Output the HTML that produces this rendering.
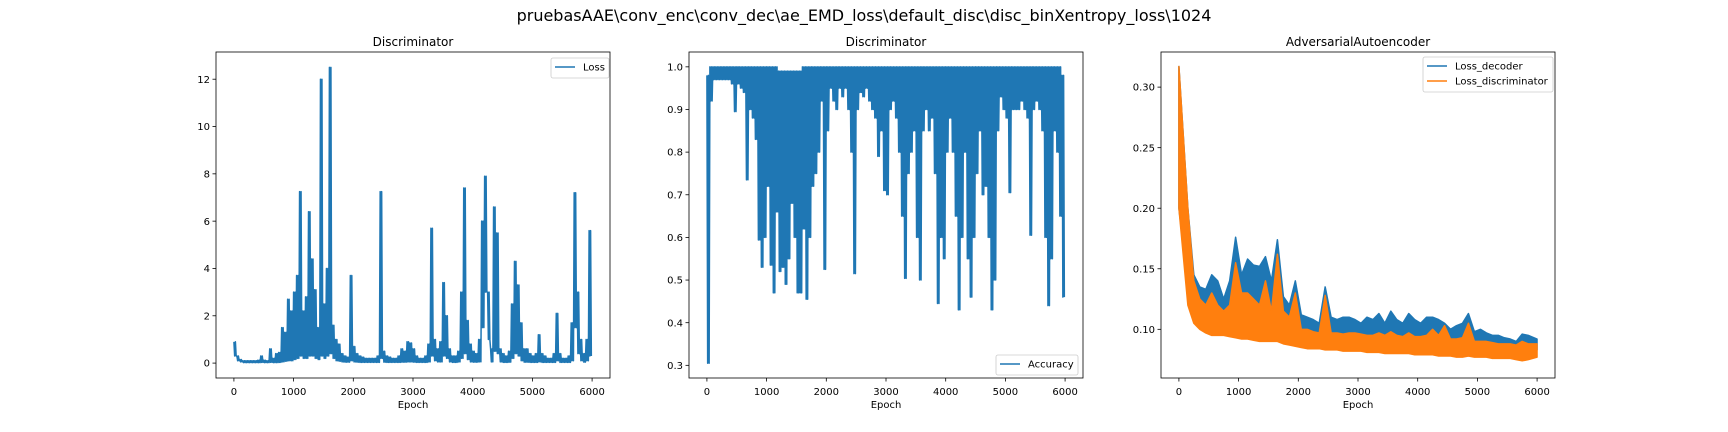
<!DOCTYPE html>
<html><head><meta charset="utf-8"><style>
html,body{margin:0;padding:0;background:#fff;}
svg{display:block;font-family:"DejaVu Sans","Liberation Sans",sans-serif;}
</style></head><body>
<svg id="fig" width="1728" height="432" viewBox="0 0 1728 432" xmlns="http://www.w3.org/2000/svg">
<rect width="1728" height="432" fill="#fff"/>
<text x="864" y="21" text-anchor="middle" font-size="16" fill="#000">pruebasAAE\conv_enc\conv_dec\ae_EMD_loss\default_disc\disc_binXentropy_loss\1024</text>
</svg>
<script>
const lossHigh=[0.9,0.3,0.15,0.1,0.1,0.1,0.1,0.1,0.12,0.3,
0.12,0.1,0.6,0.2,0.4,0.45,1.5,1.3,2.7,2.2,
3.0,3.7,7.25,2.2,2.8,6.4,4.4,3.1,1.5,12,
2.5,4.0,12.5,1.6,1.0,0.8,0.4,0.3,0.25,3.7,
0.7,0.4,0.3,0.25,0.2,0.2,0.2,0.2,0.3,7.25,
0.5,0.3,0.25,0.2,0.2,0.3,0.6,0.5,0.9,0.85,
0.6,0.3,0.2,0.2,0.3,0.8,5.7,1.0,0.6,0.9,
3.4,2.0,0.6,0.3,0.3,0.5,3.0,7.4,1.8,0.8,
0.5,0.4,1.0,6.0,7.9,3.0,0.6,6.6,5.5,0.6,
0.4,0.3,0.5,2.5,4.3,3.3,1.7,0.6,0.6,0.4,
0.3,0.4,1.2,0.4,0.3,0.2,0.2,0.4,2.1,0.4,
0.2,0.2,0.3,1.7,7.2,3.0,1.0,0.4,1.0,5.6];
const lossLow=[0.3,0.1,0.05,0.02,0.02,0.02,0.02,0.02,0.02,0.03,
0.02,0.02,0.03,0.02,0.02,0.03,0.05,0.08,0.1,0.1,
0.15,0.2,0.3,0.2,0.2,0.3,0.3,0.2,0.15,0.3,
0.2,0.3,0.4,0.2,0.1,0.08,0.05,0.04,0.04,0.1,
0.05,0.04,0.03,0.03,0.03,0.03,0.03,0.03,0.03,0.2,
0.04,0.03,0.03,0.03,0.03,0.03,0.04,0.04,0.05,0.05,
0.04,0.03,0.03,0.03,0.03,0.05,0.3,0.1,0.05,0.05,
0.3,0.2,0.05,0.03,0.03,0.05,0.2,0.4,0.15,0.05,
0.04,0.04,0.05,1.5,3.0,1.0,0.05,0.5,0.4,0.05,
0.03,0.03,0.04,0.2,0.4,0.3,0.1,0.04,0.04,0.03,
0.03,0.03,0.05,0.03,0.03,0.03,0.03,0.03,0.1,0.03,
0.03,0.03,0.03,0.1,1.5,0.4,0.1,0.04,0.1,0.3];
const accHigh=[0.98,1.0,1.0,1.0,1.0,1.0,1.0,1.0,1.0,1.0,
1.0,1.0,1.0,1.0,1.0,1.0,1.0,1.0,1.0,1.0,
1.0,1.0,1.0,1.0,0.99,0.99,0.99,0.99,0.99,0.99,
0.99,0.99,1.0,1.0,1.0,1.0,1.0,1.0,1.0,1.0,
1.0,1.0,1.0,1.0,1.0,1.0,1.0,1.0,1.0,1.0,
1.0,1.0,1.0,1.0,1.0,1.0,1.0,1.0,1.0,1.0,
1.0,1.0,1.0,1.0,1.0,1.0,1.0,1.0,1.0,1.0,
1.0,1.0,1.0,1.0,1.0,1.0,1.0,1.0,1.0,1.0,
1.0,1.0,1.0,1.0,1.0,1.0,1.0,1.0,1.0,1.0,
1.0,1.0,1.0,1.0,1.0,1.0,1.0,1.0,1.0,1.0,
1.0,1.0,1.0,1.0,1.0,1.0,1.0,1.0,1.0,1.0,
1.0,1.0,1.0,1.0,1.0,1.0,1.0,1.0,1.0,0.98];
const accLow=[0.305,0.92,0.97,0.97,0.97,0.97,0.97,0.97,0.96,0.895,
0.96,0.95,0.94,0.735,0.9,0.88,0.83,0.594,0.53,0.6,
0.72,0.535,0.47,0.66,0.52,0.53,0.49,0.55,0.68,0.6,
0.47,0.47,0.62,0.455,0.6,0.72,0.75,0.8,0.92,0.525,
0.85,0.95,0.92,0.9,0.95,0.93,0.95,0.9,0.8,0.515,
0.9,0.94,0.93,0.95,0.92,0.9,0.88,0.79,0.85,0.71,
0.7,0.9,0.92,0.88,0.8,0.65,0.504,0.75,0.8,0.85,
0.6,0.5,0.85,0.9,0.85,0.88,0.75,0.445,0.6,0.55,
0.8,0.88,0.8,0.65,0.43,0.6,0.8,0.55,0.46,0.6,
0.75,0.85,0.7,0.72,0.6,0.43,0.5,0.85,0.93,0.9,
0.88,0.705,0.9,0.9,0.9,0.92,0.9,0.88,0.605,0.9,
0.92,0.9,0.85,0.6,0.44,0.55,0.85,0.8,0.65,0.46];
const decHigh=[0.317,0.2,0.145,0.135,0.133,0.145,0.14,0.125,0.14,0.176,
0.145,0.158,0.153,0.152,0.16,0.14,0.174,0.127,0.12,0.14,
0.112,0.11,0.108,0.105,0.135,0.11,0.108,0.11,0.11,0.108,
0.105,0.11,0.108,0.113,0.105,0.115,0.108,0.105,0.113,0.108,
0.105,0.11,0.11,0.108,0.105,0.1,0.103,0.105,0.113,0.098,
0.1,0.097,0.095,0.095,0.093,0.092,0.09,0.096,0.095,0.092];
const decLow=[0.2,0.135,0.115,0.11,0.108,0.106,0.105,0.104,0.103,0.105,
0.104,0.103,0.102,0.1,0.1,0.1,0.1,0.098,0.097,0.096,
0.095,0.094,0.093,0.093,0.093,0.092,0.092,0.091,0.091,0.09,
0.09,0.09,0.089,0.089,0.089,0.088,0.088,0.088,0.087,0.087,
0.087,0.087,0.086,0.086,0.085,0.085,0.085,0.085,0.085,0.084,
0.084,0.083,0.083,0.083,0.082,0.082,0.082,0.082,0.082,0.083];
const discHigh=[0.317,0.2,0.14,0.125,0.12,0.13,0.12,0.115,0.12,0.155,
0.13,0.13,0.125,0.12,0.14,0.115,0.162,0.115,0.11,0.13,
0.1,0.1,0.098,0.097,0.128,0.097,0.097,0.096,0.097,0.097,
0.096,0.095,0.095,0.097,0.095,0.098,0.095,0.094,0.097,0.094,
0.094,0.095,0.1,0.095,0.103,0.092,0.092,0.093,0.105,0.09,
0.09,0.09,0.089,0.088,0.088,0.088,0.087,0.09,0.088,0.088];
const discLow=[0.2,0.12,0.105,0.1,0.097,0.095,0.095,0.095,0.094,0.093,
0.092,0.092,0.091,0.09,0.09,0.09,0.09,0.088,0.087,0.086,
0.085,0.084,0.084,0.084,0.083,0.083,0.083,0.082,0.082,0.082,
0.082,0.081,0.081,0.081,0.08,0.08,0.08,0.08,0.08,0.079,
0.079,0.079,0.079,0.078,0.078,0.078,0.077,0.077,0.078,0.077,
0.077,0.077,0.076,0.076,0.076,0.076,0.075,0.074,0.075,0.077];
const xTicks=[0,1000,2000,3000,4000,5000,6000];
const lossTicks=[0,2,4,6,8,10,12];
const accTicks=[0.3,0.4,0.5,0.6,0.7,0.8,0.9,1.0];
const aaeTicks=[0.10,0.15,0.20,0.25,0.30];

const NS="http://www.w3.org/2000/svg";
const fig=document.getElementById('fig');
function mk(tag,attrs,parent){const e=document.createElementNS(NS,tag);for(const k in attrs)e.setAttribute(k,attrs[k]);(parent||fig).appendChild(e);return e;}
const TOP=52,BOT=378,W=394;
function makeAxes(left,ymin,ymax,yt,fmt,title,name){
  const g=mk('g',{});
  
  
  const xs=v=>left+(v+300)/6600*W;
  const ys=v=>BOT-(v-ymin)/(ymax-ymin)*(BOT-TOP);
  const t=mk('text',{x:left+W/2,y:46,'text-anchor':'middle','font-size':12},g);t.textContent=title;
  
  
  xTicks.forEach(v=>{const x=xs(v);mk('line',{x1:x,x2:x,y1:BOT,y2:BOT+3.5,stroke:'#000','stroke-width':0.8},g);
    const l=mk('text',{x:x,y:395,'text-anchor':'middle','font-size':10},g);l.textContent=v;
    
    });
  yt.forEach(v=>{const y=ys(v);mk('line',{x1:left-3.5,x2:left,y1:y,y2:y,stroke:'#000','stroke-width':0.8},g);
    const l=mk('text',{x:left-6,y:y+3.6,'text-anchor':'end','font-size':10},g);l.textContent=fmt(v);
    
    });
  const xl=mk('text',{x:left+W/2,y:408,'text-anchor':'middle','font-size':10},g);xl.textContent='Epoch';
  
  
  const clip=mk('clipPath',{id:'c'+name},g);mk('rect',{x:left,y:TOP,width:W,height:BOT-TOP},clip);
  const plot=mk('g',{'clip-path':'url(#c'+name+')'},g);
  return {g,xs,ys,plot,left};
}
function band(ax,hi,lo,bw,k,color,name){
  let pts=[];
  for(let i=0;i<Math.min(hi.length,lo.length);i++){
    const x0=i*bw;
    for(let j=0;j<k;j++){
      pts.push(ax.xs(x0+bw*j/k).toFixed(2)+','+ax.ys(hi[i]).toFixed(2));
      pts.push(ax.xs(x0+bw*(j+0.5)/k).toFixed(2)+','+ax.ys(lo[i]).toFixed(2));
    }
  }
  const p=mk('polyline',{points:pts.join(' '),fill:'none',stroke:color,'stroke-width':1.5,'stroke-linejoin':'round'},ax.plot);
  
  
}
function area(ax,hi,lo,bw,color,name){
  const n=Math.min(hi.length,lo.length);
  let top=[],bot=[];
  for(let i=0;i<n;i++){
    const x=ax.xs(i===0?0:(i===n-1?n*bw-1:i*bw+bw/2)).toFixed(2);
    top.push(x+','+ax.ys(hi[i]).toFixed(2));
    bot.push(x+','+ax.ys(lo[i]).toFixed(2));
  }
  const pts=top.concat(bot.reverse()).join(' ');
  const p=mk('polygon',{points:pts,fill:color,stroke:color,'stroke-width':1.5,'stroke-linejoin':'round'},ax.plot);
  
  
}
function frame(ax){mk('rect',{x:ax.left,y:TOP,width:W,height:BOT-TOP,fill:'none',stroke:'#000','stroke-width':0.8},ax.g);}
function legend(ax,x,y,w,entries){
  const lg=mk('g',{},ax.g);
  
  
  mk('rect',{x:x,y:y,width:w,height:entries.length*15+5,rx:2,fill:'#fff','fill-opacity':0.8,stroke:'#ccc','stroke-width':0.8},lg);
  entries.forEach((e,i)=>{const cy=y+9+i*15;
    mk('line',{x1:x+4,x2:x+24,y1:cy,y2:cy,stroke:e[1],'stroke-width':1.5},lg);
    const t=mk('text',{x:x+32,y:cy+3.6,'font-size':10},lg);t.textContent=e[0];
    
    });
}
const BLUE='#1f77b4',ORANGE='#ff7f0e';
const a1=makeAxes(216,-0.63,13.15,lossTicks,v=>String(v),'Discriminator','loss-chart');
band(a1,lossHigh,lossLow,50,2,BLUE,'loss-line');frame(a1);
legend(a1,551,58,58,[['Loss',BLUE]]);
const a2=makeAxes(689,0.2703,1.0348,accTicks,v=>v.toFixed(1),'Discriminator','accuracy-chart');
band(a2,accHigh,accLow,50,2,BLUE,'accuracy-line');frame(a2);
legend(a2,996,355,82,[['Accuracy',BLUE]]);
const a3=makeAxes(1161,0.0598,0.329,aaeTicks,v=>v.toFixed(2),'AdversarialAutoencoder','aae-chart');
area(a3,decHigh,decLow,100,BLUE,'loss-decoder-line');
area(a3,discHigh,discLow,100,ORANGE,'loss-discriminator-line');frame(a3);
legend(a3,1423,57,130,[['Loss_decoder',BLUE],['Loss_discriminator',ORANGE]]);
</script>
</body></html>
